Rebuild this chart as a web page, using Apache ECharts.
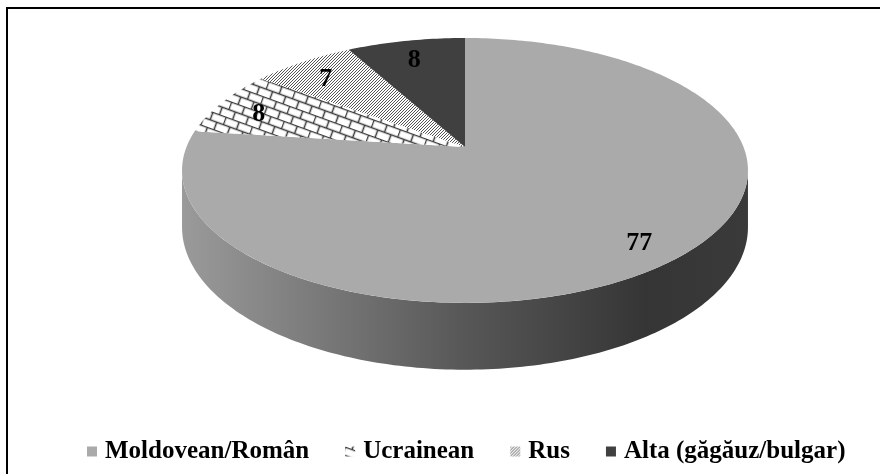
<!DOCTYPE html>
<html>
<head>
<meta charset="utf-8">
<script src="https://cdn.jsdelivr.net/npm/echarts@6/dist/echarts.min.js"></script>
<style>
  html, body { margin: 0; padding: 0; background: #fff; }
  #chart { width: 880px; height: 474px; }
</style>
</head>
<body>
<div id="chart"></div>
<script>
// date
const categories = ["Moldovean/Român", "Ucrainean", "Rus", "Alta (găgăuz/bulgar)"];
const values = [77, 8, 7, 8];

// texturi pentru felii
function brickPattern() {
  const c = document.createElement("canvas");
  c.width = 28; c.height = 16;
  const g = c.getContext("2d");
  g.fillStyle = "#ffffff";
  g.fillRect(0, 0, 28, 16);
  g.strokeStyle = "#3a3a3a";
  g.lineWidth = 1.5;
  g.beginPath();
  g.moveTo(0, 0.5); g.lineTo(28, 0.5);
  g.moveTo(0, 8.5); g.lineTo(28, 8.5);
  g.moveTo(0.5, 0); g.lineTo(0.5, 8);
  g.moveTo(14.5, 0); g.lineTo(14.5, 8);
  g.moveTo(7.5, 8); g.lineTo(7.5, 16);
  g.moveTo(21.5, 8); g.lineTo(21.5, 16);
  g.stroke();
  return { image: c, repeat: "repeat", rotation: 0.35 };
}
function dotPattern() {
  const c = document.createElement("canvas");
  c.width = 3; c.height = 3;
  const g = c.getContext("2d");
  g.fillStyle = "#ffffff";
  g.fillRect(0, 0, 3, 3);
  g.fillStyle = "#555555";
  g.fillRect(0, 0, 1, 1);
  g.fillRect(1, 2, 1, 1);
  g.fillRect(2, 1, 1, 1);
  return { image: c, repeat: "repeat" };
}
const fills = ["#aaaaaa", brickPattern(), dotPattern(), "#404040"];

// geometrie 3D (perspectiva)
const CX = 465, CY = 147, RX = 278.5, RY = 128.3, K = -0.177, DEPTH = 55;
const AR = Math.acos(K) * 180 / Math.PI;   // marginea dreapta vizibila
const AL = 360 - AR;                       // marginea stanga vizibila

function proj(aDeg, r, drop) {
  const a = aDeg * Math.PI / 180;
  const u = r * Math.sin(a), v = -r * Math.cos(a);
  const w = 1 + K * v;
  return [CX + RX * u / w, CY + RY * v / w + drop / w];
}
function rim(a0, a1, drop) {
  const pts = [];
  for (let a = a0; a < a1; a += 1) pts.push(proj(a, 1, drop));
  pts.push(proj(a1, 1, drop));
  return pts;
}

const total = values.reduce((s, v) => s + v, 0);
const starts = [];
values.reduce((acc, v, i) => { starts[i] = acc; return acc + v / total * 360; }, 0);

const sideFill = {
  type: "linear", x: 183, y: 0, x2: 748, y2: 0, global: true,
  colorStops: [
    { offset: 0, color: "#9a9a9a" },
    { offset: 0.5, color: "#575757" },
    { offset: 0.82, color: "#353535" },
    { offset: 1, color: "#3a3a3a" },
  ],
};

function makeRender(i) {
  return function (params, api) {
    const a0 = starts[i];
    const a1 = a0 + api.value(0) / total * 360;
    const children = [];
    const s0 = Math.max(a0, AR), s1 = Math.min(a1, AL);
    if (s1 > s0) {
      const side = rim(s0, s1, 0).concat(rim(s0, s1, DEPTH).reverse());
      children.push({ type: "polygon", shape: { points: side }, style: { fill: sideFill } });
    }
    const top = [proj(0, 0, 0)].concat(rim(a0, a1, 0));
    children.push({ type: "polygon", shape: { points: top }, style: { fill: fills[i] } });
    const lp = proj((a0 + a1) / 2, 0.84, 0);
    children.push({
      type: "text",
      style: {
        text: String(api.value(0)), x: lp[0], y: lp[1] + 5,
        font: 'bold 26px "Liberation Serif"', fill: "#000",
        align: "center", verticalAlign: "middle",
      },
    });
    return { type: "group", children: children };
  };
}

const chart = echarts.init(document.getElementById("chart"));
chart.setOption({
  animation: false,
  backgroundColor: "#fff",
  graphic: [{
    type: "rect", shape: { x: 7, y: 8, width: 900, height: 500 },
    style: { fill: "none", stroke: "#000", lineWidth: 2 }, silent: true,
  }],
  legend: {
    data: categories,
    left: 82,
    top: 434,
    icon: "rect",
    itemWidth: 10,
    itemHeight: 10,
    itemGap: 36,
    textStyle: {
      fontFamily: "Liberation Serif", fontWeight: "bold", fontSize: 25,
      color: "#000", padding: [0, 0, 0, 3],
    },
  },
  series: categories.map((name, i) => ({
    type: "custom",
    name: name,
    coordinateSystem: "none",
    itemStyle: { color: fills[i] },
    renderItem: makeRender(i),
    data: [[values[i]]],
  })),
});
window.addEventListener("resize", () => chart.resize());
</script>
</body>
</html>
